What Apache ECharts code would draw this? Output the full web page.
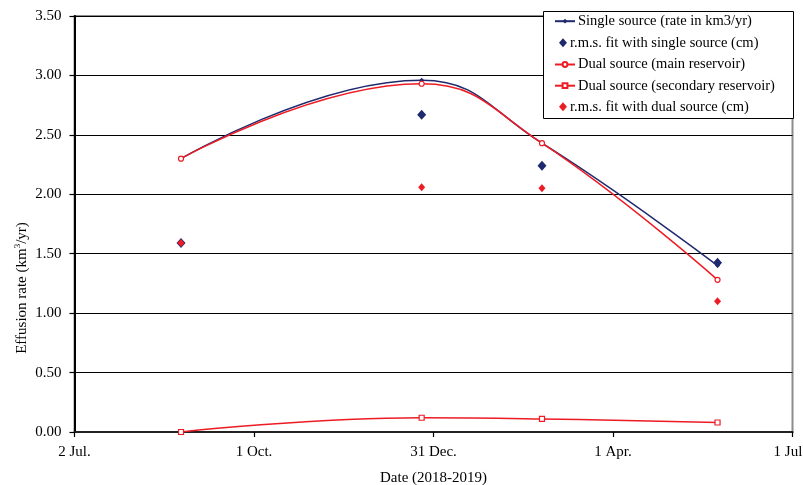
<!DOCTYPE html>
<html>
<head>
<meta charset="utf-8">
<script src="https://cdn.jsdelivr.net/npm/echarts@6/dist/echarts.min.js"></script>
<style>html,body{margin:0;padding:0;background:#fff;}#c{width:803px;height:485px;}</style>
</head>
<body>
<div id="c"></div>
<script>
const baseDate = '2018-07-02';
const tickDays = [0, 91, 182, 273, 364];
const tickLabels = ['2 Jul.', '1 Oct.', '31 Dec.', '1 Apr.', '1 Jul'];
const dates = ['2018-08-25', '2018-12-25', '2019-02-24', '2019-05-24'];
const singleSource = [2.30, 2.96, 2.43, 1.40];
const rmsSingle = [1.59, 2.67, 2.24, 1.425];
const dualMain = [2.30, 2.93, 2.43, 1.28];
const dualSecondary = [0.00, 0.12, 0.11, 0.08];
const rmsDual = [1.59, 2.06, 2.05, 1.10];
const seriesNames = ['Single source (rate in km3/yr)', 'r.m.s. fit with single source (cm)', 'Dual source (main reservoir)', 'Dual source (secondary reservoir)', 'r.m.s. fit with dual source (cm)'];

function dayOffset(d) {
  const p = s => { const a = s.split('-').map(Number); return Date.UTC(a[0], a[1]-1, a[2]); };
  return Math.round((p(d) - p(baseDate)) / 86400000);
}
const xs = dates.map(dayOffset);
const pairs = v => v.map((y, i) => [xs[i], y]);

const BLUE = '#1f2a6e';
const RED = '#ed1c24';
const FONT = 'Liberation Serif';

// legend layout: one legend per entry for per-item icon sizes
const legendRowsY = [21.7, 43.3, 65, 86.2, 107.3];
const isLineItem = [true, false, true, true, false];
const legends = seriesNames.map((n, i) => ({
  orient: 'vertical',
  left: isLineItem[i] ? 554 : 559,
  top: legendRowsY[i] - 8,
  padding: 0,
  z: 30,
  itemWidth: isLineItem[i] ? 20 : 8,
  itemHeight: isLineItem[i] ? 6 : 9,
  itemGap: 0,
  selectedMode: false,
  textStyle: {fontFamily: FONT, fontSize: 14.5, color: '#000', padding: [0, 0, 0, -2]},
  data: [n]
}));

const chart = echarts.init(document.getElementById('c'), null, {renderer: 'canvas'});
chart.setOption({
  animation: false,
  backgroundColor: '#fff',
  textStyle: {fontFamily: FONT},
  grid: {left: 74.5, right: 10.5, top: 16, bottom: 53, containLabel: false, outerBoundsMode: 'none',
    show: true, borderColor: '#8c8c8c', borderWidth: 2, backgroundColor: 'transparent'},
  xAxis: {
    type: 'value', min: 0, max: 364, interval: 91,
    name: 'Date (2018-2019)', nameLocation: 'middle', nameGap: 39,
    nameTextStyle: {fontFamily: FONT, fontSize: 15, color: '#000'},
    axisLine: {show: true, lineStyle: {color: '#222', width: 2}},
    axisTick: {show: true, length: 5, lineStyle: {color: '#000', width: 1.2}},
    axisLabel: {fontFamily: FONT, fontSize: 15, color: '#000', margin: 13,
      formatter: v => {
        const i = tickDays.indexOf(v);
        if (i < 0) return '';
        return i === tickDays.length - 1 ? '{last|' + tickLabels[i] + '}' : tickLabels[i];
      },
      rich: {last: {fontFamily: FONT, fontSize: 15, color: '#000', padding: [0, 9, 0, 0]}}
    },
    splitLine: {show: false}
  },
  yAxis: {
    type: 'value', min: 0, max: 3.5, interval: 0.5,
    axisLine: {show: true, lineStyle: {color: '#000', width: 2}},
    axisTick: {show: true, length: 5, lineStyle: {color: '#000', width: 1.2}},
    axisLabel: {fontFamily: FONT, fontSize: 15, color: '#000', margin: 13, formatter: v => v.toFixed(2)},
    splitLine: {show: true, lineStyle: {color: '#000', width: 1.2}}
  },
  graphic: [
    {type: 'rect', left: 543, top: 11, z: 20,
      shape: {width: 250, height: 107},
      style: {fill: '#fff', stroke: '#000', lineWidth: 1}},
    {type: 'text', x: 22, y: 288, rotation: Math.PI / 2, z: 10,
      style: {
        text: '{a|Effusion rate (km}{s|3}{a|/yr)}',
        align: 'center', verticalAlign: 'middle',
        rich: {
          a: {fontFamily: FONT, fontSize: 15, fill: '#000', lineHeight: 17},
          s: {fontFamily: FONT, fontSize: 9, fill: '#000', verticalAlign: 'top', lineHeight: 17, padding: [0, 0, 8, 0]}
        }
      }}
  ],
  legend: legends,
  series: [
    {name: seriesNames[0], type: 'line', smooth: 0.45, data: pairs(singleSource),
      symbol: 'diamond', symbolSize: 5,
      lineStyle: {color: BLUE, width: 1.5}, itemStyle: {color: BLUE}, z: 3},
    {name: seriesNames[2], type: 'line', smooth: 0.45, data: pairs(dualMain),
      symbol: 'circle', symbolSize: 5,
      lineStyle: {color: RED, width: 1.5}, itemStyle: {color: '#fff', borderColor: RED, borderWidth: 1.2}, z: 4},
    {name: seriesNames[3], type: 'line', smooth: 0.45, data: pairs(dualSecondary),
      symbol: 'rect', symbolSize: 5,
      lineStyle: {color: RED, width: 1.5}, itemStyle: {color: '#fff', borderColor: RED, borderWidth: 1.2}, z: 4},
    {name: seriesNames[1], type: 'scatter', data: pairs(rmsSingle),
      symbol: 'diamond', symbolSize: [9, 10], itemStyle: {color: BLUE, opacity: 1}, z: 5},
    {name: seriesNames[4], type: 'scatter', data: pairs(rmsDual),
      symbol: 'diamond', symbolSize: [7, 8], itemStyle: {color: RED, opacity: 1}, z: 6}
  ]
});
</script>
</body>
</html>
